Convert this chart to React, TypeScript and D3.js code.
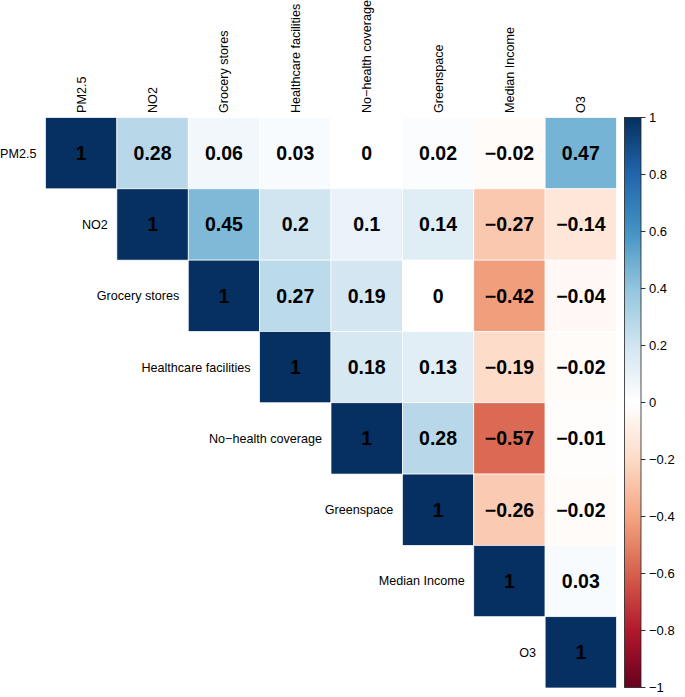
import React from "react";
import * as d3 from "d3";

const variables = [
  "PM2.5",
  "NO2",
  "Grocery stores",
  "Healthcare facilities",
  "No\u2212health coverage",
  "Greenspace",
  "Median Income",
  "O3",
];

// upper-triangle rows (starting at the diagonal)
const rowPM25 = [1, 0.28, 0.06, 0.03, 0, 0.02, -0.02, 0.47];
const rowNO2 = [1, 0.45, 0.2, 0.1, 0.14, -0.27, -0.14];
const rowGrocery = [1, 0.27, 0.19, 0, -0.42, -0.04];
const rowHealthcare = [1, 0.18, 0.13, -0.19, -0.02];
const rowNoHealth = [1, 0.28, -0.57, -0.01];
const rowGreenspace = [1, -0.26, -0.02];
const rowIncome = [1, 0.03];
const rowO3 = [1];
const rows = [rowPM25, rowNO2, rowGrocery, rowHealthcare, rowNoHealth, rowGreenspace, rowIncome, rowO3];

const legendTicks = [1, 0.8, 0.6, 0.4, 0.2, 0, -0.2, -0.4, -0.6, -0.8, -1];

const paletteRdBu = [
  "#67001F", "#B2182B", "#D6604D", "#F4A582", "#FDDBC7", "#FFFFFF",
  "#D1E5F0", "#92C5DE", "#4393C3", "#2166AC", "#053061",
];

const W = 685;
const H = 697;
const gridLeft = 45.5;
const gridTop = 117.5;
const gridRight = 616.5;
const gridBottom = 688;
const font = "'Liberation Sans', Arial, Helvetica, sans-serif";

function fmt(v: number): string {
  const s = String(Math.round(v * 100) / 100);
  return s.replace("-", "\u2212");
}

export default function App() {
  const x = d3.scaleBand<number>().domain(d3.range(variables.length)).range([gridLeft, gridRight]);
  const y = d3.scaleBand<number>().domain(d3.range(variables.length)).range([gridTop, gridBottom]);
  const color = d3
    .scaleLinear<string>()
    .domain(d3.range(paletteRdBu.length).map((i) => -1 + (2 * i) / (paletteRdBu.length - 1)))
    .range(paletteRdBu)
    .interpolate(d3.interpolateRgb);

  const barX0 = 624.5;
  const barX1 = 641;
  const barY = d3.scaleLinear().domain([-1, 1]).range([gridBottom - 0.5, gridTop]);
  const stops = d3.range(0, 1.0001, 0.05);

  const cells: React.ReactNode[] = [];
  rows.forEach((row, i) => {
    row.forEach((v, k) => {
      const j = i + k;
      cells.push(
        <g key={`${i}-${j}`}>
          <rect
            x={x(j)}
            y={y(i)}
            width={x.bandwidth()}
            height={y.bandwidth()}
            fill={color(v)}
            stroke="#ffffff"
            strokeWidth={0.7}
          />
          <text
            x={(x(j) as number) + x.bandwidth() / 2}
            y={(y(i) as number) + y.bandwidth() / 2}
            dy="0.36em"
            textAnchor="middle"
            fontSize={19.5}
            fontWeight="bold"
            fill="#000"
          >
            {fmt(v)}
          </text>
        </g>
      );
    });
  });

  return (
    <svg
      width={W}
      height={H}
      style={{ position: "absolute", left: 0, top: 0, background: "#fff" }}
      fontFamily={font}
    >
      <defs>
        <linearGradient id="cbar" x1="0" y1="1" x2="0" y2="0">
          {stops.map((t) => (
            <stop key={t} offset={t} stopColor={color(-1 + 2 * t)} />
          ))}
        </linearGradient>
      </defs>
      {cells}
      {variables.map((name, j) => (
        <text
          key={`c${j}`}
          transform={`translate(${(x(j) as number) + x.bandwidth() / 2 + 4.5},${gridTop - 4.5}) rotate(-90)`}
          fontSize={12.6}
          fill="#000"
        >
          {name}
        </text>
      ))}
      {variables.map((name, i) => (
        <text
          key={`r${i}`}
          x={(x(i) as number) - 9}
          y={(y(i) as number) + y.bandwidth() / 2}
          dy="0.35em"
          textAnchor="end"
          fontSize={12.6}
          fill="#000"
        >
          {name}
        </text>
      ))}
      <rect
        x={barX0}
        y={barY(1)}
        width={barX1 - barX0}
        height={barY(-1) - barY(1)}
        fill="url(#cbar)"
        stroke="#222"
        strokeWidth={0.8}
      />
      {legendTicks.map((t) => (
        <g key={`t${t}`}>
          <line x1={barX1} x2={barX1 + 4.5} y1={barY(t)} y2={barY(t)} stroke="#000" strokeWidth={0.8} />
          <text x={barX1 + 8} y={barY(t)} dy="0.36em" fontSize={13} fill="#000">
            {fmt(t)}
          </text>
        </g>
      ))}
    </svg>
  );
}
